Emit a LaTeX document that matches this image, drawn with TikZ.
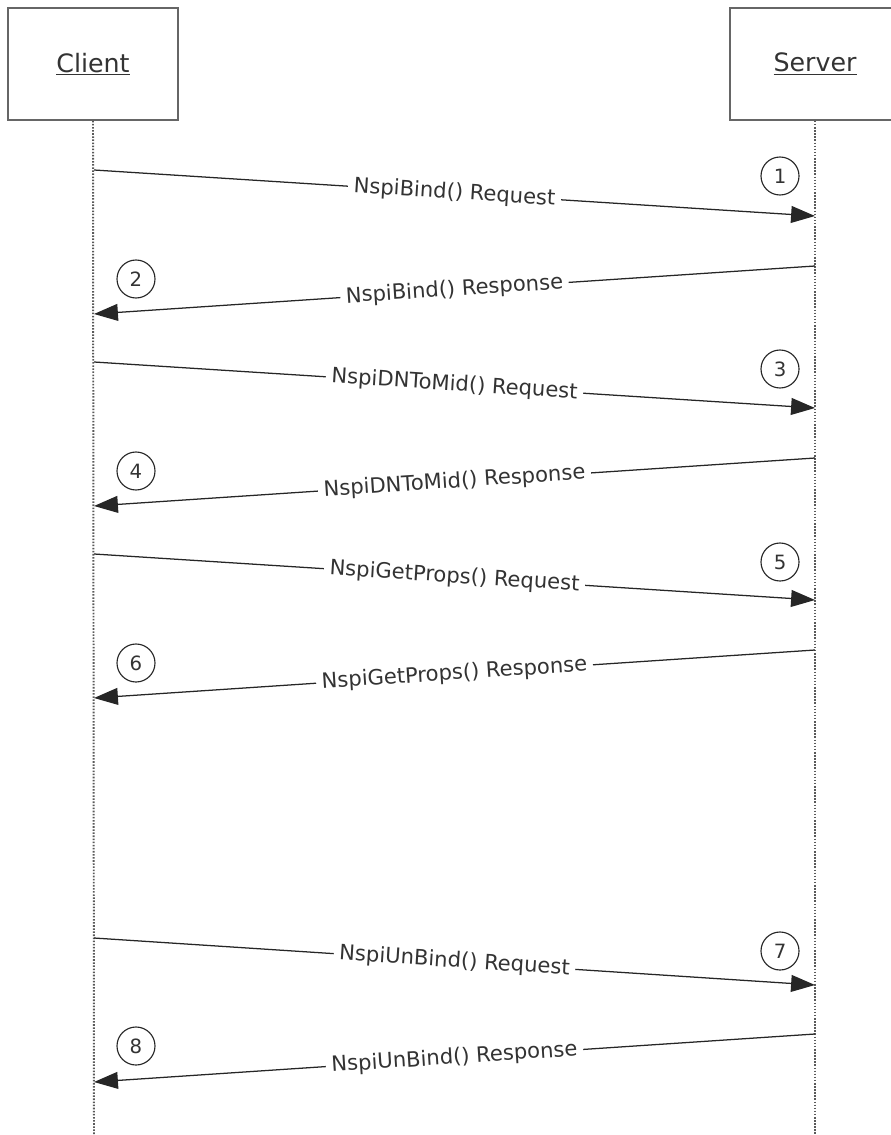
\documentclass[tikz,border=0pt]{standalone}
\usepackage{fontspec}
\setmainfont{DejaVu Sans}
\usetikzlibrary{arrows.meta}
\tikzset{
        actor/.style={draw=gray!80!black, line width=1.2pt, minimum width=4.25cm, minimum height=2.8cm, font=\fontsize{18}{21}\selectfont, text=black!80},
        lifeline/.style={draw=gray!70!black, line width=1.4pt, dash pattern=on 1.1pt off 1.1pt},
        msg/.style={draw=black!85, line width=0.9pt, -{Triangle[length=17pt, width=12pt]}},
        msglabel/.style={sloped, midway, fill=white, inner xsep=4pt, inner ysep=1.5pt, font=\fontsize{15}{18}\selectfont, text=black!80},
        stepnum/.style={draw=black!85, circle, line width=0.8pt, minimum size=0.95cm, inner sep=0pt, font=\fontsize{14}{16}\selectfont, text=black!80}
}

\begin{document}
\begin{tikzpicture}[x=0.025cm, y=-0.025cm]
        \useasboundingbox (0,0) rectangle (890,1135);
        \node (client) [actor] at (93, 64) {\underline{Client}};
        \node (server) [actor] at (815, 64) {\underline{Server}};
        \coordinate (cend) at (94, 1135);
        \coordinate (send) at (815, 1135);
        \draw [lifeline] (client.south) -- (cend);
        \draw [lifeline] (server.south) -- (send);
        \coordinate (c1) at (94, 170);   \coordinate (s1) at (815, 216);
        \coordinate (s2) at (815, 266);  \coordinate (c2) at (94, 314);
        \coordinate (c3) at (94, 362);   \coordinate (s3) at (815, 408);
        \coordinate (s4) at (815, 458);  \coordinate (c4) at (94, 506);
        \coordinate (c5) at (94, 554);   \coordinate (s5) at (815, 600);
        \coordinate (s6) at (815, 650);  \coordinate (c6) at (94, 698);
        \coordinate (c7) at (94, 938);   \coordinate (s7) at (815, 985);
        \coordinate (s8) at (815, 1034); \coordinate (c8) at (94, 1082);
        \draw [msg] (c1) -- node [msglabel] {NspiBind() Request} (s1);
        \draw [msg] (s2) -- node [msglabel] {NspiBind() Response} (c2);
        \draw [msg] (c3) -- node [msglabel] {NspiDNToMid() Request} (s3);
        \draw [msg] (s4) -- node [msglabel] {NspiDNToMid() Response} (c4);
        \draw [msg] (c5) -- node [msglabel] {NspiGetProps() Request} (s5);
        \draw [msg] (s6) -- node [msglabel] {NspiGetProps() Response} (c6);
        \draw [msg] (c7) -- node [msglabel] {NspiUnBind() Request} (s7);
        \draw [msg] (s8) -- node [msglabel] {NspiUnBind() Response} (c8);
        \node (n1) [stepnum] at (780, 176) {1};
        \node (n2) [stepnum] at (136, 279) {2};
        \node (n3) [stepnum] at (780, 369) {3};
        \node (n4) [stepnum] at (136, 471) {4};
        \node (n5) [stepnum] at (780, 562) {5};
        \node (n6) [stepnum] at (136, 663) {6};
        \node (n7) [stepnum] at (780, 951) {7};
        \node (n8) [stepnum] at (136, 1046) {8};
\end{tikzpicture}
\end{document}
